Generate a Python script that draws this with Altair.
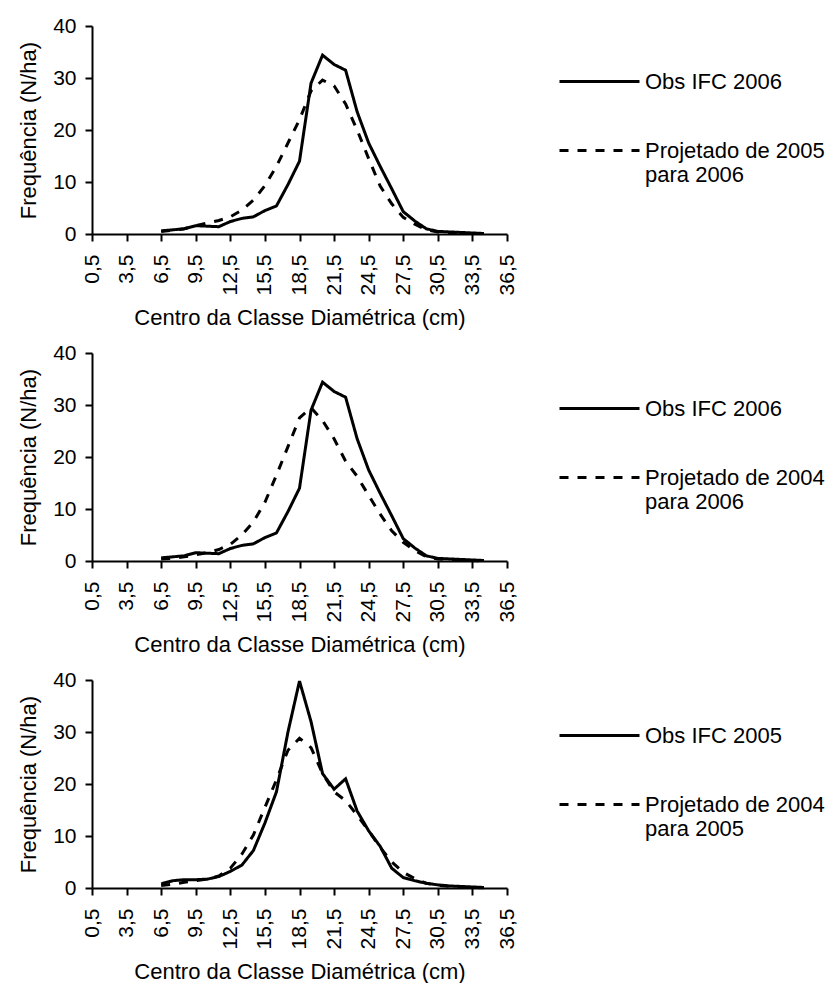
import altair as alt
import pandas as pd

# Diameter class centres (cm)
classes = [6.5, 7.5, 8.5, 9.5, 10.5, 11.5, 12.5, 13.5, 14.5, 15.5,
           16.5, 17.5, 18.5, 19.5, 20.5, 21.5, 22.5, 23.5, 24.5, 25.5,
           26.5, 27.5, 28.5, 29.5, 30.5, 31.5, 32.5, 33.5, 34.5]

# Frequencies (N/ha) per class
obs_2006 = [0.6, 0.8, 1.0, 1.6, 1.5, 1.4, 2.4, 3.0, 3.3, 4.5,
            5.4, 9.5, 14.0, 29.0, 34.4, 32.6, 31.5, 23.5, 17.5, 13.0,
            8.7, 4.3, 2.5, 1.0, 0.5, 0.4, 0.3, 0.2, 0.1]
proj_2005_2006 = [0.5, 0.7, 1.0, 1.6, 2.1, 2.6, 3.3, 4.6, 6.5, 9.3,
                  13.0, 17.5, 22.0, 27.5, 29.6, 28.5, 25.0, 20.0, 14.5, 9.2,
                  5.8, 3.2, 1.9, 0.8, 0.4, 0.2, 0.1, 0.1, 0.05]
proj_2004_2006 = [0.4, 0.5, 0.8, 1.2, 1.6, 2.2, 3.2, 5.0, 7.5, 11.3,
                  16.5, 22.0, 27.5, 29.5, 27.0, 23.5, 19.2, 16.3, 12.6, 9.0,
                  5.8, 3.6, 2.0, 0.8, 0.4, 0.2, 0.1, 0.1, 0.05]
obs_2005 = [0.8, 1.4, 1.6, 1.6, 1.7, 2.2, 3.2, 4.4, 7.2, 12.5,
            18.5, 30.0, 39.8, 32.0, 22.0, 19.0, 21.0, 14.8, 11.0, 8.0,
            3.8, 2.0, 1.4, 0.9, 0.6, 0.4, 0.3, 0.2, 0.1]
proj_2004_2005 = [0.5, 0.7, 1.1, 1.4, 1.7, 2.3, 3.8, 6.5, 10.2, 15.5,
                  20.8, 26.5, 28.8, 27.0, 22.0, 18.5, 16.8, 14.0, 11.0, 7.8,
                  5.0, 3.0, 1.8, 0.9, 0.5, 0.3, 0.2, 0.1, 0.05]

panels = [
    ("Obs IFC 2006", obs_2006, "Projetado de 2005 para 2006", proj_2005_2006),
    ("Obs IFC 2006", obs_2006, "Projetado de 2004 para 2006", proj_2004_2006),
    ("Obs IFC 2005", obs_2005, "Projetado de 2004 para 2005", proj_2004_2005),
]

x_ticks = [0.5, 3.5, 6.5, 9.5, 12.5, 15.5, 18.5, 21.5, 24.5, 27.5, 30.5, 33.5, 36.5]
y_ticks = [0, 10, 20, 30, 40]

FONT = "Liberation Sans"
FS_LABEL = 21
FS_TEXT = 22

# break "Projetado de XXXX para YYYY" into two legend lines
split_expr = (
    "indexof(datum.label, ' para ') > 0 ? "
    "[substring(datum.label, 0, indexof(datum.label, ' para ')), "
    "substring(datum.label, indexof(datum.label, ' para ') + 1)] : datum.label"
)


def make_panel(obs_name, obs, proj_name, proj):
    n = len(classes)
    df = pd.DataFrame({
        "classe": classes + classes,
        "freq": obs + proj,
        "serie": [obs_name] * n + [proj_name] * n,
    })
    return (
        alt.Chart(df)
        .mark_line(color="black", strokeWidth=3)
        .encode(
            x=alt.X(
                "classe:Q",
                scale=alt.Scale(domain=[0.5, 36.5], nice=False, zero=False),
                axis=alt.Axis(
                    values=x_ticks,
                    labelExpr="replace(format(datum.value, '.1f'), '.', ',')",
                    labelAngle=270,
                    labelPadding=13,
                    title="Centro da Classe Diamétrica (cm)",
                    titlePadding=13,
                ),
            ),
            y=alt.Y(
                "freq:Q",
                scale=alt.Scale(domain=[0, 40], nice=False),
                axis=alt.Axis(
                    values=y_ticks,
                    labelPadding=9,
                    title="Frequência (N/ha)",
                    titlePadding=12,
                ),
            ),
            strokeDash=alt.StrokeDash(
                "serie:N",
                scale=alt.Scale(domain=[obs_name, proj_name], range=[[1, 0], [9, 9]]),
                legend=alt.Legend(
                    title=None,
                    orient="none",
                    legendX=466,
                    legendY=14,
                    symbolType="stroke",
                    symbolSize=6400,
                    symbolStrokeWidth=3,
                    symbolStrokeColor="black",
                    labelExpr=split_expr,
                    labelFont=FONT,
                    labelFontSize=FS_TEXT,
                    labelColor="black",
                    labelOffset=4,
                    labelLimit=300,
                    rowPadding=16,
                    padding=0,
                ),
            ),
        )
        .properties(width=415, height=208)
    )


chart = (
    alt.vconcat(*[make_panel(*p) for p in panels], spacing=13)
    .resolve_scale(strokeDash="independent")
    .resolve_legend(strokeDash="independent")
    .properties(padding={"left": 17, "top": 15, "right": 0, "bottom": 0})
    .configure_view(stroke=None)
    .configure_axis(
        grid=False,
        domainColor="black",
        domainWidth=2,
        tickColor="black",
        tickWidth=2,
        tickSize=7,
        labelFont=FONT,
        labelFontSize=FS_LABEL,
        labelColor="black",
        titleFont=FONT,
        titleFontSize=FS_TEXT,
        titleFontWeight="normal",
        titleColor="black",
    )
)

chart.save("out.html", embed_options={"renderer": "svg", "actions": False})
